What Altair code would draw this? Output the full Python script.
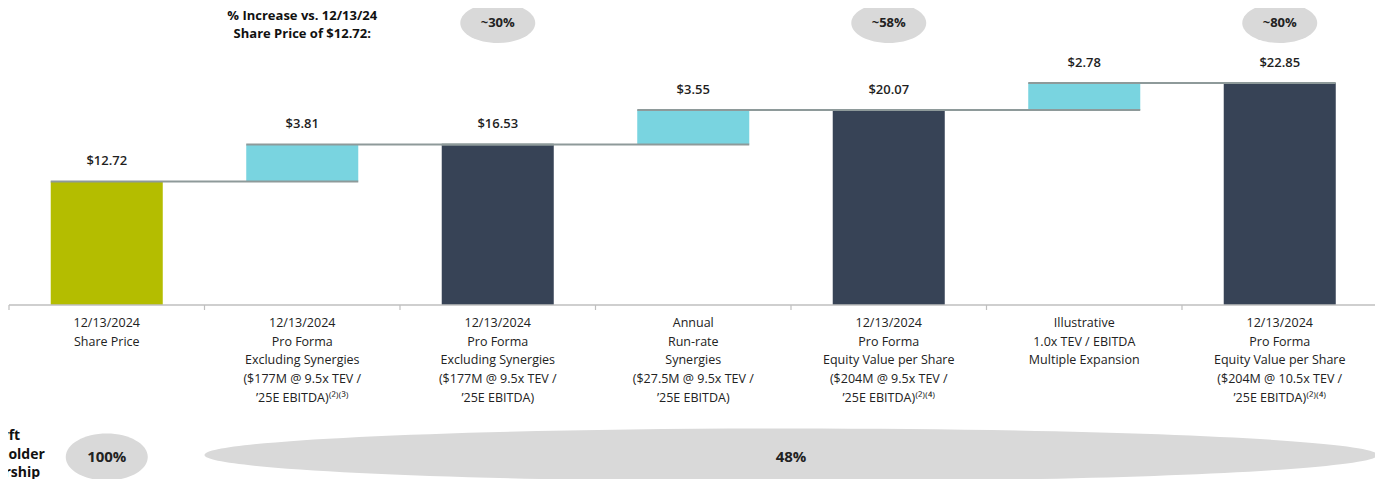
import altair as alt
import pandas as pd

# ---------------- data ----------------
categories = [
    "12/13/2024\nShare Price",
    "12/13/2024\nPro Forma\nExcluding Synergies\n($177M @ 9.5x TEV /\n\u201925E EBITDA)\u207d\u00b2\u207e\u207d\u00b3\u207e",
    "12/13/2024\nPro Forma\nExcluding Synergies\n($177M @ 9.5x TEV /\n\u201925E EBITDA)",
    "Annual\nRun-rate\nSynergies\n($27.5M @ 9.5x TEV /\n\u201925E EBITDA)",
    "12/13/2024\nPro Forma\nEquity Value per Share\n($204M @ 9.5x TEV /\n\u201925E EBITDA)\u207d\u00b2\u207e\u207d\u2074\u207e",
    "Illustrative\n1.0x TEV / EBITDA\nMultiple Expansion",
    "12/13/2024\nPro Forma\nEquity Value per Share\n($204M @ 10.5x TEV /\n\u201925E EBITDA)\u207d\u00b2\u207e\u207d\u2074\u207e",
]
values = [12.72, 3.81, 16.53, 3.55, 20.07, 2.78, 22.85]
kinds = ["start", "delta", "total", "delta", "total", "delta", "total"]
value_labels = ["$12.72", "$3.81", "$16.53", "$3.55", "$20.07", "$2.78", "$22.85"]

increase_labels = ["~30%", "~58%", "~80%"]
increase_index = [2, 4, 6]
header_text = "% Increase vs. 12/13/24\nShare Price of $12.72:"

ownership_labels = ["100%", "48%"]
ownership_center = [0, 3.5]
side_text = "Shyft\nShareholder\nOwnership"

# ---------------- layout ----------------
W, H = 1367, 471
STEP = 195.5
X0 = 98.75
xdom = [-X0 / STEP, (W - X0) / STEP]
BASE = 297
PXU = 9.716
ydom = [-(H - BASE) / PXU, BASE / PXU]
HALF = 0.2865
FONT = "Open Sans"

xs = alt.Scale(domain=xdom, nice=False, zero=False)
ys = alt.Scale(domain=ydom, nice=False, zero=False)

# build waterfall table
rows = []
running = 0.0
for i, (v, k, lab, cat) in enumerate(zip(values, kinds, value_labels, categories)):
    if k == "delta":
        y0, y1 = running, running + v
    else:
        y0, y1 = 0.0, v
    running = y1
    rows.append(dict(idx=i, x0=i - HALF, x1=i + HALF, y0=y0, y1=y1, kind=k, label=lab, cat=cat))
bars_df = pd.DataFrame(rows)

conn = []
for i in range(len(rows) - 1):
    conn.append(dict(x0=rows[i]["x0"], x1=rows[i + 1]["x1"], level=rows[i]["y1"]))
conn_df = pd.DataFrame(conn)

bounds_df = pd.DataFrame({"b": [i - 0.5 for i in range(len(values) + 1)]})
base_df = pd.DataFrame({"a": [-0.5], "b": [len(values) - 0.5], "y": [0.0]})

inc_df = pd.DataFrame({"idx": increase_index, "label": increase_labels})
own_df = pd.DataFrame({"idx": ownership_center, "label": ownership_labels})


def ellipse(r):
    k = 0.5523
    return (f"M-1,0 C-1,{-k*r} {-k},{-r} 0,{-r} C{k},{-r} 1,{-k*r} 1,0 "
            f"C1,{k*r} {k},{r} 0,{r} C{-k},{r} -1,{k*r} -1,0 Z")


GRAY = "#D9D9D9"

bars = alt.Chart(bars_df).mark_bar().encode(
    x=alt.X("x0:Q", scale=xs, axis=None),
    x2="x1:Q",
    y=alt.Y("y0:Q", scale=ys, axis=None),
    y2="y1:Q",
    color=alt.Color("kind:N", scale=alt.Scale(domain=["start", "delta", "total"],
                                              range=["#B4BD00", "#79D4E0", "#374356"]), legend=None),
)

connectors = alt.Chart(conn_df).mark_rule(color="#8E9A9A", strokeWidth=2).encode(
    x=alt.X("x0:Q", scale=xs), x2="x1:Q", y=alt.Y("level:Q", scale=ys))

vlabels = alt.Chart(bars_df).mark_text(
    dy=-20, baseline="middle", fontSize=13, fontWeight=600, font=FONT, color="#1F1F1F"
).encode(x=alt.X("idx:Q", scale=xs), y=alt.Y("y1:Q", scale=ys), text="label:N")

baseline = alt.Chart(base_df).mark_rule(color="#BFBFBF", strokeWidth=1.5).encode(
    x=alt.X("a:Q", scale=xs), x2="b:Q", y=alt.Y("y:Q", scale=ys))

ticks = alt.Chart(bounds_df).mark_rule(color="#BFBFBF", strokeWidth=1.2).encode(
    x=alt.X("b:Q", scale=xs), y=alt.value(BASE), y2=alt.value(BASE + 5))

catlabels = alt.Chart(bars_df).mark_text(
    baseline="top", lineBreak="\n", lineHeight=18.7, fontSize=12.5, font=FONT, color="#222222"
).encode(x=alt.X("idx:Q", scale=xs), y=alt.value(BASE + 12), text="cat:N")

header = alt.Chart(pd.DataFrame({"t": [header_text]})).mark_text(
    baseline="top", lineBreak="\n", lineHeight=18, fontSize=13, fontWeight="bold", font=FONT, color="#111111"
).encode(x=alt.datum(1, scale=xs), y=alt.value(2), text="t:N")

inc_bub = alt.Chart(inc_df).mark_point(
    shape=ellipse(40 / 75), size=75 * 75, filled=True, color=GRAY, opacity=1, strokeWidth=0
).encode(x=alt.X("idx:Q", scale=xs), y=alt.value(15))

inc_txt = alt.Chart(inc_df).mark_text(
    baseline="middle", fontSize=13, fontWeight="bold", font=FONT, color="#222222"
).encode(x=alt.X("idx:Q", scale=xs), y=alt.value(15), text="label:N")

own_small = alt.Chart(own_df.iloc[[0]]).mark_point(
    shape=ellipse(47 / 82), size=82 * 82, filled=True, color=GRAY, opacity=1, strokeWidth=0
).encode(x=alt.X("idx:Q", scale=xs), y=alt.value(449))

own_big = alt.Chart(own_df.iloc[[1]]).mark_point(
    shape=ellipse(53 / 1173), size=1173 * 1173, filled=True, color=GRAY, opacity=1, strokeWidth=0
).encode(x=alt.X("idx:Q", scale=xs), y=alt.value(447))

own_txt = alt.Chart(own_df).mark_text(
    baseline="middle", fontSize=15, fontWeight="bold", font=FONT, color="#222222"
).encode(x=alt.X("idx:Q", scale=xs), y=alt.value(449), text="label:N")

side = alt.Chart(pd.DataFrame({"t": [side_text]})).mark_text(
    baseline="top", align="center", lineBreak="\n", lineHeight=18.5, fontSize=14, fontWeight="bold",
    font=FONT, color="#111111"
).encode(x=alt.value(-6), y=alt.value(421), text="t:N")

chart = alt.layer(
    bars, connectors, baseline, ticks, vlabels, catlabels, header,
    inc_bub, inc_txt, own_small, own_big, own_txt, side
).properties(
    width=W, height=H, padding=0, background="white",
    autosize=alt.AutoSizeParams(type="none"),
).configure_view(stroke=None)

chart.save("out.html", embed_options={"renderer": "svg", "actions": False})
